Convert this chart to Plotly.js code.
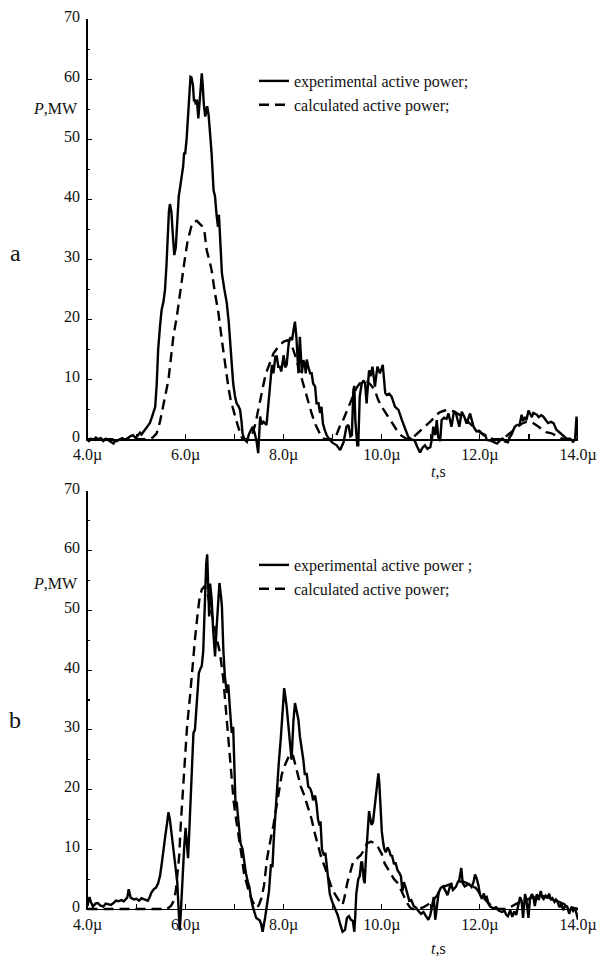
<!DOCTYPE html>
<html>
<head>
<meta charset="utf-8">
<script src="https://cdn.plot.ly/plotly-3.0.1.min.js"></script>
<style>html,body{margin:0;padding:0;background:#fff;}</style>
</head>
<body>
<div id="chart" style="width:597px;height:960px;"></div>
<script>
// ---- tick labels ----
const xTickVals = [4, 6, 8, 10, 12, 14];
const xTickText = ['4.0\u00b5', '6.0\u00b5', '8.0\u00b5', '10.0\u00b5', '12.0\u00b5', '14.0\u00b5'];
const yTickVals = [0, 10, 20, 30, 40, 50, 60, 70];

// ---- series names ----
const nameExpA = 'experimental active power;';
const nameCalcA = 'calculated active power;';
const nameExpB = 'experimental active power ;';
const nameCalcB = 'calculated active power;';

// ---- panel a : experimental (t in microseconds, P in MW) ----
const aExpT = [4.00,4.02,4.07,4.12,4.17,4.22,4.27,4.32,4.38,4.44,4.49,4.53,4.57,4.60,4.66,4.71,4.76,4.82,4.87,4.93,4.97,5.00,5.04,5.07,5.10,5.14,5.18,5.21,5.24,5.27,5.31,5.35,5.38,5.41,5.44,5.48,5.51,5.55,5.58,5.61,5.63,5.66,5.68,5.71,5.74,5.77,5.80,5.83,5.86,5.89,5.92,5.95,5.97,5.99,6.02,6.06,6.08,6.10,6.12,6.15,6.17,6.19,6.21,6.23,6.26,6.29,6.31,6.33,6.35,6.37,6.40,6.42,6.44,6.47,6.50,6.53,6.57,6.60,6.63,6.66,6.68,6.70,6.74,6.79,6.84,6.88,6.91,6.94,6.97,7.01,7.04,7.08,7.11,7.14,7.16,7.19,7.21,7.25,7.29,7.33,7.37,7.41,7.45,7.48,7.50,7.52,7.55,7.59,7.65,7.69,7.72,7.76,7.79,7.83,7.86,7.89,7.92,7.95,7.98,8.00,8.03,8.06,8.09,8.11,8.14,8.17,8.20,8.23,8.26,8.28,8.30,8.33,8.35,8.37,8.40,8.43,8.45,8.47,8.50,8.54,8.57,8.60,8.64,8.67,8.71,8.74,8.77,8.80,8.84,8.88,8.94,9.00,9.08,9.15,9.22,9.28,9.32,9.36,9.39,9.42,9.44,9.46,9.50,9.52,9.55,9.59,9.63,9.66,9.69,9.74,9.77,9.81,9.86,9.91,9.96,10.02,10.07,10.10,10.15,10.20,10.27,10.34,10.41,10.47,10.54,10.60,10.67,10.72,10.78,10.83,10.88,10.93,10.99,11.03,11.05,11.09,11.12,11.15,11.19,11.22,11.27,11.32,11.36,11.42,11.47,11.51,11.55,11.58,11.63,11.68,11.73,11.80,11.87,11.93,11.99,12.04,12.11,12.14,12.21,12.28,12.35,12.41,12.46,12.52,12.57,12.61,12.64,12.68,12.71,12.76,12.81,12.85,12.88,12.92,12.95,12.99,13.03,13.06,13.09,13.12,13.16,13.20,13.25,13.29,13.34,13.39,13.45,13.50,13.56,13.62,13.70,13.77,13.84,13.90,13.94,13.97,14.00];
const aExpP = [0.2,-0.4,0.1,-0.1,0.3,0.0,0.2,-0.3,0.1,-0.2,-0.4,-0.7,-0.2,-0.3,0.0,0.2,-0.1,0.3,0.5,0.7,0.3,0.4,0.9,1.1,0.8,1.3,1.6,2.1,2.4,2.7,3.6,4.9,5.4,9.0,14.9,19.0,21.5,23.0,24.9,29.0,33.2,38.0,39.2,38.0,34.0,30.7,32.0,37.0,40.5,42.1,43.5,45.5,47.8,47.5,50.0,55.4,58.5,60.4,60.3,59.0,56.5,56.5,55.8,56.6,53.5,56.6,59.5,61.0,59.0,56.0,53.8,55.0,55.5,54.0,51.0,47.7,41.5,40.5,37.5,35.4,37.4,33.2,27.7,25.0,22.7,19.5,16.5,13.0,9.3,7.0,6.0,5.5,4.9,3.0,1.0,0.2,-0.1,-0.4,0.8,1.5,2.1,1.0,-0.5,-2.3,0.0,3.8,2.5,2.9,2.4,6.0,8.8,12.4,11.0,13.8,13.8,12.1,12.1,11.3,13.0,14.0,12.0,12.4,15.0,16.5,17.0,16.5,18.2,19.6,16.9,14.0,11.0,17.1,14.0,11.0,13.2,12.5,11.0,13.3,12.1,11.0,11.0,9.3,8.8,6.0,6.0,4.4,5.4,2.6,1.5,0.6,-0.1,-0.6,-1.0,-1.8,-0.5,2.1,2.4,0.5,0.7,8.2,8.9,3.2,-1.0,-1.0,7.1,9.3,9.8,9.3,6.0,11.5,10.5,12.1,8.8,12.1,11.0,12.4,7.7,7.4,7.6,7.1,5.4,4.9,3.2,1.8,0.4,0.0,-0.2,-1.2,-2.2,-1.4,-1.0,-1.6,-1.3,0.5,2.1,0.7,3.2,0.4,-0.3,3.2,3.6,3.4,4.3,2.1,4.6,4.4,3.2,2.1,4.6,3.8,2.6,4.3,2.1,1.3,1.4,1.0,0.7,-0.1,-0.2,-0.5,-0.7,-0.2,0.1,-0.4,-0.5,0.4,0.7,1.5,2.1,2.4,2.4,4.1,3.0,3.7,3.2,4.8,4.2,3.7,4.4,4.3,4.1,3.7,4.0,3.8,3.2,2.7,2.9,2.7,1.6,1.2,0.7,0.1,0.1,-0.4,0.0,3.8,0.0];

// ---- panel a : calculated ----
const aCalcT = [4.00,5.25,5.33,5.41,5.48,5.55,5.60,5.65,5.70,5.75,5.82,5.89,5.94,5.99,6.04,6.09,6.13,6.17,6.23,6.29,6.34,6.38,6.43,6.48,6.53,6.60,6.67,6.74,6.80,6.87,6.92,6.97,7.02,7.07,7.14,7.17,7.30,7.36,7.42,7.48,7.53,7.58,7.63,7.69,7.74,7.79,7.86,7.92,8.00,8.07,8.12,8.18,8.24,8.30,8.36,8.43,8.50,8.57,8.64,8.70,8.77,8.84,9.00,9.06,9.11,9.16,9.21,9.28,9.34,9.41,9.48,9.55,9.63,9.70,9.77,9.85,9.93,10.00,10.07,10.13,10.20,10.30,10.40,10.50,10.58,10.64,10.70,10.80,10.88,10.95,11.02,11.10,11.18,11.28,11.38,11.48,11.60,11.72,11.84,11.96,12.08,12.20,12.30,12.45,12.55,12.65,12.75,12.85,12.95,13.05,13.16,13.25,13.35,13.46,13.55,13.65,13.75,14.00];
const aCalcP = [0,0,0.3,1.0,3.0,6.0,8.0,9.9,13.5,17.1,20.4,24.9,27.8,30.4,33.0,34.9,35.9,36.3,36.4,35.9,35.5,34.9,31.5,30.0,28.2,24.3,21.0,16.5,12.7,8.8,6.5,4.9,3.2,2.1,0.4,0,0,0.8,2.5,5.0,7.2,9.3,10.8,12.1,13.3,14.3,15.1,15.7,16.3,16.5,16.2,15.3,13.8,12.0,10.3,8.4,6.0,4.3,2.6,1.5,0.4,0,0,0.4,1.6,2.5,3.2,4.6,5.9,7.2,8.5,9.3,9.7,9.6,9.1,8.3,6.5,5.4,4.5,3.8,2.8,1.6,0.6,0.1,0,0.3,0.8,1.5,2.1,2.7,3.2,4.0,4.5,4.8,4.9,4.6,4.0,3.2,2.3,1.4,0.7,0.2,0,0,0.6,1.3,2.0,2.6,2.9,2.9,2.3,1.8,1.2,1.0,0.6,0.2,0,0];

// ---- panel b : experimental ----
const bExpT = [4.00,4.02,4.04,4.07,4.11,4.16,4.21,4.26,4.32,4.37,4.42,4.48,4.53,4.58,4.63,4.69,4.74,4.78,4.81,4.84,4.88,4.95,5.00,5.05,5.10,5.16,5.23,5.27,5.30,5.35,5.40,5.44,5.48,5.52,5.55,5.59,5.62,5.65,5.68,5.72,5.76,5.80,5.83,5.86,5.88,5.90,5.93,5.97,6.00,6.02,6.05,6.07,6.09,6.11,6.13,6.16,6.19,6.22,6.27,6.30,6.33,6.36,6.38,6.40,6.42,6.44,6.46,6.48,6.50,6.53,6.56,6.60,6.63,6.66,6.69,6.72,6.74,6.77,6.80,6.84,6.87,6.91,6.94,6.97,7.00,7.02,7.04,7.09,7.12,7.16,7.20,7.23,7.27,7.30,7.34,7.37,7.44,7.51,7.54,7.57,7.62,7.66,7.70,7.74,7.77,7.80,7.83,7.86,7.90,7.94,7.98,8.01,8.06,8.13,8.16,8.20,8.23,8.30,8.33,8.40,8.43,8.47,8.50,8.54,8.57,8.60,8.64,8.67,8.70,8.73,8.75,8.78,8.82,8.85,8.90,8.94,8.98,9.03,9.06,9.10,9.15,9.20,9.25,9.29,9.33,9.37,9.41,9.44,9.46,9.48,9.52,9.55,9.58,9.60,9.63,9.65,9.68,9.71,9.74,9.77,9.79,9.82,9.85,9.88,9.91,9.93,9.95,9.97,10.00,10.03,10.05,10.08,10.12,10.15,10.18,10.21,10.25,10.28,10.32,10.36,10.39,10.42,10.45,10.49,10.53,10.56,10.60,10.65,10.70,10.74,10.80,10.85,10.90,10.95,10.99,11.03,11.06,11.09,11.12,11.16,11.20,11.25,11.30,11.34,11.38,11.41,11.45,11.48,11.51,11.55,11.58,11.62,11.65,11.69,11.73,11.78,11.83,11.87,11.90,11.93,11.97,12.00,12.04,12.08,12.11,12.14,12.18,12.21,12.28,12.33,12.39,12.45,12.50,12.54,12.57,12.62,12.66,12.70,12.74,12.78,12.82,12.85,12.88,12.92,12.95,12.99,13.02,13.06,13.09,13.12,13.16,13.20,13.24,13.27,13.30,13.34,13.38,13.41,13.45,13.48,13.52,13.55,13.58,13.62,13.66,13.70,13.74,13.78,13.82,13.86,13.90,13.94,13.97,14.00];
const bExpP = [0.5,1.6,2.0,1.2,0.4,0.9,1.0,0.6,0.4,0.9,0.8,0.7,1.0,1.4,1.3,1.5,1.3,1.6,1.9,3.3,1.9,1.6,1.7,1.4,1.8,1.6,1.4,2.0,2.7,3.3,3.6,4.3,5.6,8.0,10.2,12.5,14.2,16.2,15.0,12.0,9.0,6.5,4.5,-0.4,-3.6,-1.0,5.0,10.2,13.6,11.5,8.5,12.0,15.9,21.0,24.5,29.5,30.0,34.0,39.5,40.2,40.7,43.2,48.0,55.2,57.8,59.4,52.0,49.0,54.5,52.0,47.0,42.3,46.8,51.0,54.6,52.5,50.7,43.3,39.0,36.2,37.6,32.8,29.5,30.5,22.0,17.0,18.0,13.0,11.0,10.1,7.5,6.0,4.5,3.7,1.5,0.4,-1.5,-1.9,-2.5,-3.8,-1.5,0.5,3.0,7.5,7.0,12.0,16.0,21.0,24.5,28.5,34.0,37.0,33.9,28.4,25.0,31.7,34.5,31.7,28.9,25.0,22.6,22.6,20.5,20.2,19.5,18.2,19.0,17.5,15.0,14.0,14.7,10.0,9.0,9.4,5.0,2.5,1.4,0.5,-0.3,-1.0,-2.5,-3.8,-3.5,-1.5,-1.2,-1.8,-2.0,-3.8,-1.0,2.6,5.0,5.5,7.8,7.8,5.0,4.3,9.0,12.4,16.4,15.0,14.1,14.5,17.0,19.5,21.5,22.7,21.0,18.2,13.0,11.0,10.1,9.5,10.3,9.8,9.0,8.9,7.5,7.8,6.5,6.0,5.5,3.0,4.5,3.5,2.0,1.4,1.5,0.5,0.2,-0.3,-0.8,-0.5,-1.2,-1.8,-1.0,0.5,2.0,-1.8,0.5,2.8,3.5,3.8,3.0,2.3,3.5,4.3,3.2,3.5,3.7,4.5,4.9,6.9,4.3,3.8,4.0,4.2,3.7,4.5,5.8,5.2,4.0,2.5,1.7,2.6,1.8,2.0,0.8,0.4,0.1,0.3,-0.3,-0.5,-0.3,-1.0,-1.2,-0.2,-1.3,-0.4,-1.0,0.4,2.0,1.4,-1.5,2.5,1.4,-1.5,1.7,2.5,2.0,0.5,2.5,1.5,3.0,2.0,1.7,2.2,1.8,2.6,1.5,1.8,1.2,1.6,1.3,0.3,0.8,-0.2,0.6,0.4,-0.8,0.3,-0.3,0.2,-0.8,-1.8];

// ---- panel b : calculated ----
const bCalcT = [4.00,5.62,5.70,5.76,5.80,5.83,5.87,5.90,5.94,5.99,6.03,6.09,6.14,6.19,6.24,6.28,6.33,6.38,6.43,6.50,6.57,6.63,6.70,6.77,6.84,6.89,6.94,6.98,7.03,7.09,7.14,7.19,7.25,7.30,7.36,7.41,7.46,7.50,7.55,7.60,7.66,7.70,7.74,7.79,7.84,7.90,7.96,8.02,8.10,8.18,8.28,8.35,8.42,8.50,8.57,8.64,8.70,8.77,8.84,8.90,8.96,9.03,9.10,9.16,9.20,9.24,9.30,9.36,9.42,9.50,9.57,9.63,9.70,9.78,9.85,9.92,10.00,10.06,10.12,10.16,10.25,10.33,10.40,10.45,10.51,10.57,10.63,10.75,10.85,10.95,11.05,11.12,11.19,11.28,11.36,11.45,11.55,11.65,11.75,11.85,11.92,12.00,12.08,12.15,12.25,12.35,12.55,12.65,12.75,12.85,12.95,13.05,13.15,13.25,13.35,13.45,13.55,13.65,13.75,13.85,13.95,14.00];
const bCalcP = [0,0,0.5,1.4,3.0,5.5,9.0,14.0,19.5,26.0,30.6,35.6,40.6,45.1,49.0,51.8,53.5,54.0,53.5,51.0,48.0,45.5,42.9,38.4,31.7,26.1,21.6,18.0,15.0,12.0,9.0,6.0,4.0,2.6,1.4,0.5,0.2,0.8,1.9,4.0,8.4,10.5,12.0,14.0,16.5,19.5,22.5,24.0,25.5,26.0,23.0,20.5,19.0,17.0,15.0,12.5,10.5,8.5,7.0,5.5,4.0,2.7,1.7,1.0,0.7,2.0,4.5,6.5,8.0,8.5,9.0,9.8,11.0,11.3,11.0,10.4,9.2,7.6,6.8,6.2,5.0,4.3,3.0,2.0,1.1,0.3,0,0,0.3,0.8,1.5,2.2,3.2,3.8,4.1,4.3,4.6,4.6,4.3,3.9,3.5,2.6,1.8,1.2,0.4,0,0,0.5,0.9,1.3,1.6,1.9,2.1,2.2,2.1,1.8,1.4,1.0,0.6,0.3,0.1,0];

// ---------------- layout geometry (paper fractions) ----------------
const W = 597, H = 960;
const FONT = 'Liberation Serif, Times New Roman, serif';
const xDom = [87.5 / W, 578 / W];
const fy = px => 1 - px / H;

const solid = {color: '#000', width: 2.4};
const dashed = {color: '#000', width: 2.4, dash: '10px,6px'};

const traces = [
  {x: aExpT, y: aExpP, name: nameExpA, mode: 'lines', line: solid, xaxis: 'x', yaxis: 'y', legend: 'legend', hoverinfo: 'skip'},
  {x: aCalcT, y: aCalcP, name: nameCalcA, mode: 'lines', line: dashed, xaxis: 'x', yaxis: 'y', legend: 'legend', hoverinfo: 'skip'},
  {x: bExpT, y: bExpP, name: nameExpB, mode: 'lines', line: solid, xaxis: 'x2', yaxis: 'y2', legend: 'legend2', hoverinfo: 'skip'},
  {x: bCalcT, y: bCalcP, name: nameCalcB, mode: 'lines', line: dashed, xaxis: 'x2', yaxis: 'y2', legend: 'legend2', hoverinfo: 'skip'},
  // empty helpers so that the frame-only axes are built
  {x: [], y: [], xaxis: 'x3', yaxis: 'y3', showlegend: false, hoverinfo: 'skip', mode: 'lines'},
  {x: [], y: [], xaxis: 'x4', yaxis: 'y4', showlegend: false, hoverinfo: 'skip', mode: 'lines'}
];

const hidden = (dom, rng, anchor) => ({domain: dom, range: rng, visible: false, fixedrange: true, anchor: anchor});

const tickFont = {family: FONT, size: 16, color: '#111'};
const frameX = (yAnchor) => ({
  domain: xDom, range: [4, 14], anchor: yAnchor,
  showline: true, linecolor: '#000', linewidth: 1.3, mirror: false,
  showgrid: false, zeroline: false,
  tickmode: 'array', tickvals: xTickVals, ticktext: xTickText,
  ticks: 'inside', ticklen: 5, tickwidth: 1.1, tickcolor: '#000',
  ticklabelstandoff: 0,
  minor: {tickmode: 'linear', tick0: 4, dtick: 1, ticks: 'inside', ticklen: 5, tickwidth: 1.1, tickcolor: '#000', showgrid: false},
  tickfont: tickFont, fixedrange: true
});
const frameY = (dom, xAnchor) => ({
  domain: dom, range: [0, 70], anchor: xAnchor,
  showline: true, linecolor: '#000', linewidth: 1.3,
  showgrid: false, zeroline: false,
  tickmode: 'array', tickvals: yTickVals,
  ticks: 'inside', ticklen: 4, tickwidth: 1.1, tickcolor: '#000',
  ticklabelstandoff: 3, ticklabelshift: -3,
  minor: {tickmode: 'linear', tick0: 0, dtick: 5, ticks: 'inside', ticklen: 2.5, tickwidth: 1.1, tickcolor: '#000', showgrid: false},
  tickfont: tickFont, fixedrange: true
});

const layout = {
  width: W, height: H,
  margin: {l: 0, r: 0, t: 0, b: 0, pad: 0},
  paper_bgcolor: '#fff', plot_bgcolor: 'rgba(0,0,0,0)',
  font: {family: FONT, size: 16, color: '#111'},
  showlegend: true,
  xaxis: hidden(xDom, [4, 14], 'y'),
  yaxis: hidden([fy(457.3), fy(19.3)], [-3, 70], 'x'),
  xaxis2: hidden(xDom, [4, 14], 'y2'),
  yaxis2: hidden([fy(935.9), fy(491)], [-4.5, 70], 'x2'),
  xaxis3: frameX('y3'),
  yaxis3: frameY([fy(439.3), fy(19.3)], 'x3'),
  xaxis4: frameX('y4'),
  yaxis4: frameY([fy(909), fy(491)], 'x4'),
  legend: {x: 254 / W, y: fy(64), xanchor: 'left', yanchor: 'top', bgcolor: 'rgba(0,0,0,0)', borderwidth: 0,
           font: {family: FONT, size: 16, color: '#111'}, traceorder: 'normal', tracegroupgap: 0},
  legend2: {x: 254 / W, y: fy(548), xanchor: 'left', yanchor: 'top', bgcolor: 'rgba(0,0,0,0)', borderwidth: 0,
            font: {family: FONT, size: 16, color: '#111'}, traceorder: 'normal', tracegroupgap: 0},
  annotations: [
    {text: 'a', x: 15 / W, y: fy(253), xref: 'paper', yref: 'paper', showarrow: false, xanchor: 'center', yanchor: 'middle', font: {family: FONT, size: 24, color: '#111'}},
    {text: 'b', x: 15 / W, y: fy(720), xref: 'paper', yref: 'paper', showarrow: false, xanchor: 'center', yanchor: 'middle', font: {family: FONT, size: 24, color: '#111'}},
    {text: '<i>P</i>,MW', x: 55 / W, y: fy(108), xref: 'paper', yref: 'paper', showarrow: false, xanchor: 'center', yanchor: 'middle', font: {family: FONT, size: 16, color: '#111'}},
    {text: '<i>P</i>,MW', x: 55 / W, y: fy(583), xref: 'paper', yref: 'paper', showarrow: false, xanchor: 'center', yanchor: 'middle', font: {family: FONT, size: 16, color: '#111'}},
    {text: '<i>t</i>,s', x: 438 / W, y: fy(471), xref: 'paper', yref: 'paper', showarrow: false, xanchor: 'center', yanchor: 'middle', font: {family: FONT, size: 16, color: '#111'}},
    {text: '<i>t</i>,s', x: 438 / W, y: fy(948), xref: 'paper', yref: 'paper', showarrow: false, xanchor: 'center', yanchor: 'middle', font: {family: FONT, size: 16, color: '#111'}}
  ]
};

Plotly.newPlot('chart', traces, layout, {displayModeBar: false, staticPlot: true});
</script>
</body>
</html>
